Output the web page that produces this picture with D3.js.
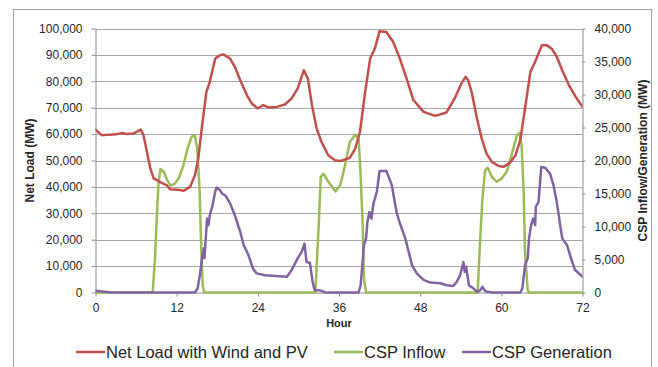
<!DOCTYPE html>
<html><head><meta charset="utf-8">
<script src="https://cdn.jsdelivr.net/npm/d3@7"></script>
<style>
html,body{margin:0;padding:0;background:#fff;}
svg{display:block;font-family:"Liberation Sans",Arial,sans-serif;}
</style></head>
<body><svg id="c" width="658" height="367"></svg>
<script>
// ---- data ----
const xTicks = [0, 12, 24, 36, 48, 60, 72];
const leftTicks = [0,10000,20000,30000,40000,50000,60000,70000,80000,90000,100000];
const rightTicks = [0,5000,10000,15000,20000,25000,30000,35000,40000];
const seriesNames = ["Net Load with Wind and PV", "CSP Inflow", "CSP Generation"];

const netLoadHours = [0,0.9,2,3,4,4.6,5.6,6.7,7.1,7.6,8.1,8.6,9.5,10.5,11,12.5,13,14,14.7,15.2,15.7,16.4,16.9,17.7,18.4,18.9,19.9,20.6,21.4,22.4,23.1,24,24.8,25.6,26.8,28,29,29.9,30.8,31.4,32,32.7,33.4,34.4,35.4,36.2,37.6,38.4,39.1,39.8,40.6,41.3,42,43,44,45,46,47,48.5,50.2,51.9,53.1,54.1,54.7,55.1,55.6,56.4,57.1,57.8,58.6,59.6,60.3,61.3,62.1,62.8,63.5,64.3,65,66,66.7,67.5,68.2,69,70,71,72];
const netLoadMW = [61700,59600,59800,59900,60400,60000,60200,61700,59600,53300,47000,43200,41900,40700,39100,38800,38500,40000,44400,50800,62000,76000,79800,88600,89900,90200,88600,85500,80400,74700,71600,69700,71000,70100,70300,71200,73500,77300,84200,81000,71000,62100,57100,52000,50100,49800,51000,54500,60900,74700,88600,92400,99000,98700,95000,88600,81000,72900,68400,66900,68200,73500,79200,81700,80400,76000,65900,58300,52700,49500,47900,47600,49200,52000,57700,69700,83600,87400,93700,93700,92200,89300,84200,78500,74100,70300];

const inflowHours = [0,8.45,8.8,9.05,9.3,9.6,10.1,10.6,11.1,11.75,12.4,13,13.6,14.2,14.7,15.05,15.4,15.6,15.85,16.05,32.5,33,33.3,33.7,34.4,35.5,36.2,36.9,37.6,38.4,38.9,39.2,39.5,39.7,40,56.5,56.85,57.2,57.6,58,58.6,59.3,60,60.8,61.5,62.3,62.7,63,63.3,63.5,63.9,64.1,72];
const inflowMW = [0,0,5200,11200,16300,18700,18300,17000,16200,16500,17500,19300,21800,23600,23800,21800,15300,7700,1100,0,0,10200,17500,18000,16800,15300,16300,19300,22800,23900,23300,17800,10200,2100,0,0,7700,14200,18500,18900,17500,16800,17200,18300,20800,23800,24200,22300,15300,6200,350,0,0];

const genHours = [0,1,2.1,3,14.7,15.1,15.5,15.8,16,16.1,16.4,16.5,16.7,16.9,17.3,17.7,17.9,18.4,18.7,19.2,19.9,20.6,21.4,21.9,22.6,23.3,23.8,25.1,26.6,28.3,29,29.9,30.5,30.9,31.2,31.7,32.1,32.4,33.1,34,38.9,39.2,39.7,40,40.2,40.5,40.8,41.1,41.6,42,43,43.8,44.5,45,45.8,46.3,46.8,47.5,48.5,49.5,51,51.9,52.9,53.4,53.9,54.4,54.6,54.8,55.2,55.9,56.4,56.9,57.2,57.6,58.6,62.8,63.1,63.5,63.9,64.1,64.4,64.7,65,65.1,65.5,65.9,66.5,67.2,67.7,68.2,68.7,69,69.7,70.3,70.9,71.9,72];
const genMW = [250,150,50,0,0,600,3100,5700,6700,5200,9700,11200,10200,11700,13200,15300,15900,15500,15000,14700,13500,11700,9200,7200,5700,3600,2900,2600,2500,2400,3400,5200,6200,7400,4600,4500,1600,350,350,0,0,1100,7200,8200,10700,12200,11200,13500,15300,18400,18400,16300,12200,10500,8200,6200,4100,2900,1900,1500,1400,1100,1000,1600,2600,4600,3100,3900,1100,600,100,350,860,200,0,0,600,4100,5200,8200,10200,11200,10200,13000,13700,19000,18900,18000,16300,13700,10200,8200,7200,5200,3400,2500,2400];

const colors = ["#C0504D", "#9BBB59", "#8064A2"];

// ---- chart ----
const svg = d3.select("#c");
const L = 95.5, R = 582.5, T = 28.5, B = 292.5;
const x = d3.scaleLinear().domain([0, 72]).range([L, R]);
const yL = d3.scaleLinear().domain([0, 100000]).range([B, T]);
const yR = d3.scaleLinear().domain([0, 40000]).range([B, T]);

// frame
svg.append("rect").attr("x", 13.5).attr("y", 9.5).attr("width", 638).attr("height", 400)
  .attr("fill", "none").attr("stroke", "#a0a0a0").attr("stroke-width", 1);

// gridlines
svg.append("g").selectAll("line").data(leftTicks.filter(d => d > 0)).join("line")
  .attr("x1", L).attr("x2", R)
  .attr("y1", d => Math.round(yL(d)) + 0.5).attr("y2", d => Math.round(yL(d)) + 0.5)
  .attr("stroke", "#a6a6a6").attr("stroke-width", 1);

function styleAxis(g) {
  g.selectAll(".domain").attr("stroke", "#8c8c8c");
  g.selectAll(".tick line").attr("stroke", "#8c8c8c");
  g.selectAll("text").attr("fill", "#262626").style("font-size", "12px")
    .style("font-family", "'Liberation Sans', Arial, sans-serif");
}

svg.append("g").attr("transform", `translate(${L},0)`)
  .call(d3.axisLeft(yL).tickValues(leftTicks).tickFormat(d3.format(",")).tickSize(4).tickPadding(9).tickSizeOuter(0))
  .call(styleAxis);
svg.append("g").attr("transform", `translate(${R},0)`)
  .call(d3.axisRight(yR).tickValues(rightTicks).tickFormat(d3.format(",")).tickSize(3).tickPadding(9).tickSizeOuter(0))
  .call(styleAxis);
svg.append("g").attr("transform", `translate(0,${B})`)
  .call(d3.axisBottom(x).tickValues(xTicks).tickSize(4).tickPadding(7).tickSizeOuter(0))
  .call(styleAxis);

// axis titles
svg.append("text").attr("x", (L + R) / 2).attr("y", 327).attr("text-anchor", "middle")
  .style("font-size", "11px").style("font-weight", "bold").attr("fill", "#262626").text("Hour");
svg.append("text").attr("transform", `translate(34,${(T + B) / 2}) rotate(-90)`).attr("text-anchor", "middle")
  .style("font-size", "12px").style("font-weight", "bold").attr("fill", "#262626").text("Net Load (MW)");
svg.append("text").attr("transform", `translate(647,${(T + B) / 2}) rotate(-90)`).attr("text-anchor", "middle")
  .style("font-size", "12px").style("font-weight", "bold").attr("fill", "#262626").text("CSP Inflow/Generation (MW)");

// lines
const clipId = "plotclip";
svg.append("clipPath").attr("id", clipId).append("rect").attr("x", L).attr("y", T - 5).attr("width", R - L).attr("height", B - T + 8);

const lineL = d3.line().x(d => x(d[0])).y(d => yL(d[1]));
const lineR = d3.line().x(d => x(d[0])).y(d => yR(d[1]));
const g = svg.append("g").attr("clip-path", `url(#${clipId})`);

const inflowData = inflowHours.map((h, i) => [h, inflowMW[i]]);
const genData = genHours.map((h, i) => [h, genMW[i]]);
const netData = netLoadHours.map((h, i) => [h, netLoadMW[i]]);

g.append("path").datum(inflowData).attr("d", lineR).attr("fill", "none").attr("stroke", colors[1])
  .attr("stroke-width", 2.5).attr("stroke-linejoin", "round").attr("stroke-linecap", "round");
g.append("path").datum(genData).attr("d", lineR).attr("fill", "none").attr("stroke", colors[2])
  .attr("stroke-width", 2.5).attr("stroke-linejoin", "round").attr("stroke-linecap", "round");
g.append("path").datum(netData).attr("d", lineL).attr("fill", "none").attr("stroke", colors[0])
  .attr("stroke-width", 2.5).attr("stroke-linejoin", "round").attr("stroke-linecap", "round");

// legend
const legendItems = [
  { name: seriesNames[0], color: colors[0], x: 76 },
  { name: seriesNames[1], color: colors[1], x: 334 },
  { name: seriesNames[2], color: colors[2], x: 462 }
];
const lg = svg.append("g");
legendItems.forEach(it => {
  lg.append("line").attr("x1", it.x).attr("x2", it.x + 29).attr("y1", 352).attr("y2", 352)
    .attr("stroke", it.color).attr("stroke-width", 2.5);
  lg.append("text").attr("x", it.x + 30).attr("y", 358).style("font-size", "16.5px").attr("fill", "#262626").text(it.name);
});
</script></body></html>
